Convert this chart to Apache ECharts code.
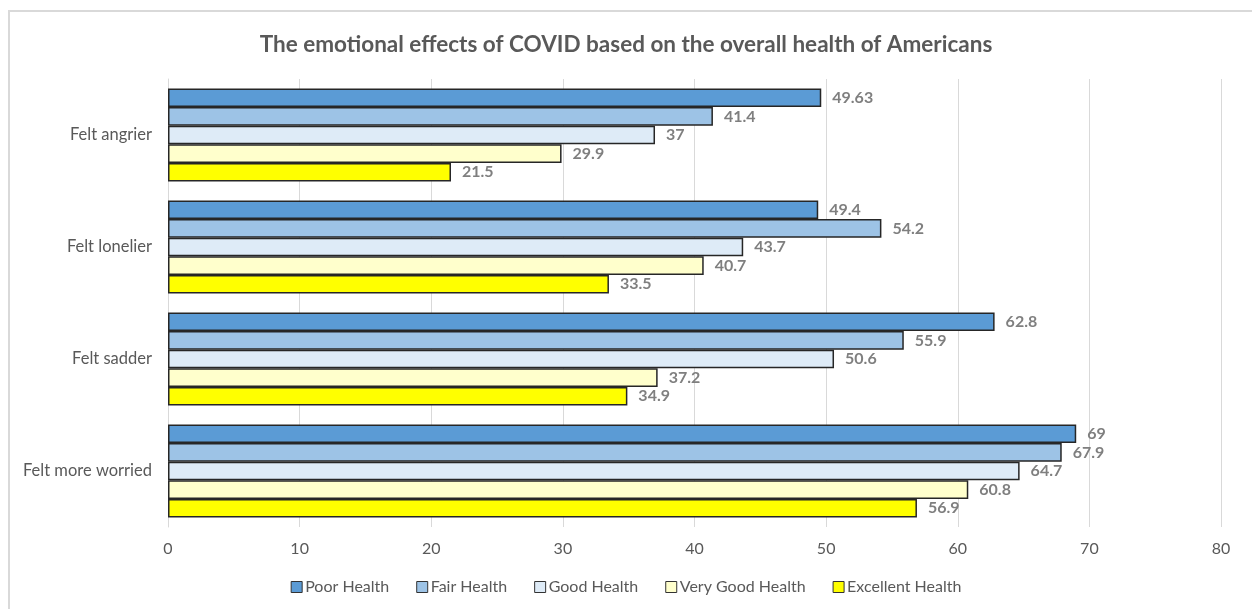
<!DOCTYPE html>
<html>
<head>
<meta charset="utf-8">
<script src="https://cdn.jsdelivr.net/npm/echarts@6/dist/echarts.min.js"></script>
<style>
html,body{margin:0;padding:0;background:#fff;}
#chart{width:1252px;height:609px;}
</style>
</head>
<body>
<div id="chart"></div>
<script>
const categories = ['Felt angrier', 'Felt lonelier', 'Felt sadder', 'Felt more worried'];
const seriesNames = ['Poor Health', 'Fair Health', 'Good Health', 'Very Good Health', 'Excellent Health'];
const poorHealth = [49.63, 49.4, 62.8, 69];
const fairHealth = [41.4, 54.2, 55.9, 67.9];
const goodHealth = [37, 43.7, 50.6, 64.7];
const veryGoodHealth = [29.9, 40.7, 37.2, 60.8];
const excellentHealth = [21.5, 33.5, 34.9, 56.9];
const xTicks = [0, 10, 20, 30, 40, 50, 60, 70, 80];

const seriesData = [poorHealth, fairHealth, goodHealth, veryGoodHealth, excellentHealth];
const colors = ['#5B9BD5', '#9DC3E6', '#DEEBF7', '#FFFFCC', '#FFFF00'];
const fontFam = 'Lato, "Open Sans", sans-serif';

const chart = echarts.init(document.getElementById('chart'));
chart.setOption({
  animation: false,
  backgroundColor: '#fff',
  graphic: [{
    type: 'rect', shape: {x: 9, y: 11, width: 1300, height: 700},
    style: {fill: 'none', stroke: '#d9d9d9', lineWidth: 2}, z: -1
  }],
  title: {
    text: 'The emotional effects of COVID based on the overall health of Americans',
    left: 'center', top: 28,
    textStyle: {color: '#595959', fontSize: 22.5, fontWeight: 'bold', fontFamily: fontFam}
  },
  legend: {
    data: seriesNames, bottom: 9, left: 'center',
    itemWidth: 11, itemHeight: 11, itemGap: 27,
    icon: 'rect',
    textStyle: {color: '#595959', fontSize: 16, fontFamily: fontFam, padding: [0,0,0,-2]},
    itemStyle: {borderColor: '#333', borderWidth: 1}
  },
  grid: {left: 168, right: 31, top: 79, bottom: 82, containLabel: false},
  xAxis: {
    type: 'value', min: 0, max: 80, interval: 10,
    axisLine: {show: false}, axisTick: {show: false},
    splitLine: {lineStyle: {color: '#d9d9d9', width: 1}},
    axisLabel: {color: '#595959', fontSize: 16, fontFamily: fontFam, margin: 14,
      formatter: v => xTicks.includes(v) ? String(v) : ''}
  },
  yAxis: {
    type: 'category', data: categories, inverse: true,
    axisLine: {show: true, lineStyle: {color: '#d9d9d9'}}, axisTick: {show: false},
    axisLabel: {color: '#595959', fontSize: 16.5, fontFamily: fontFam, margin: 16}
  },
  series: seriesData.map((d, i) => ({
    name: seriesNames[i], type: 'bar', data: d,
    barGap: '0%', barCategoryGap: '17%',
    itemStyle: {color: colors[i], borderColor: '#262626', borderWidth: 1.5},
    label: {show: true, position: 'right', distance: 11, color: '#7f7f7f',
      fontSize: 16, fontWeight: 'bold', fontFamily: fontFam}
  }))
});
</script>
</body>
</html>
